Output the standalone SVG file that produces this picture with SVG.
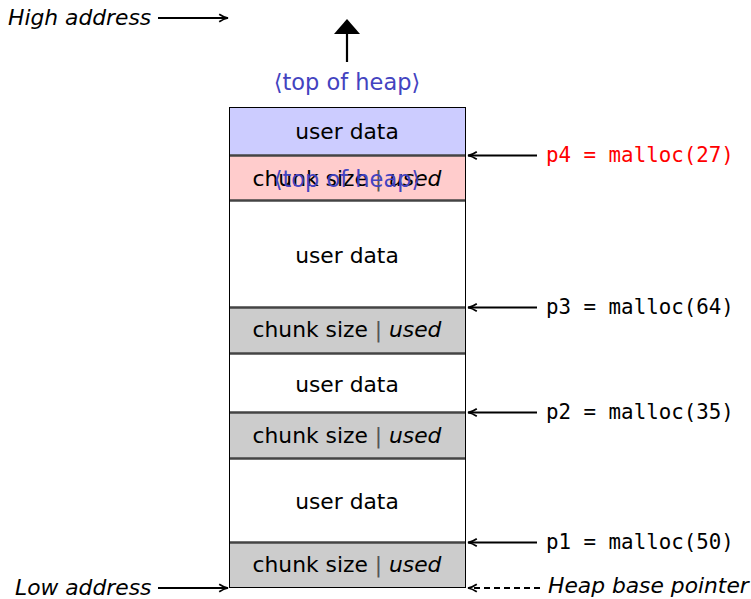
<svg xmlns="http://www.w3.org/2000/svg" width="751" height="599" viewBox="0 0 751 599">
<style>
.t{font-family:"DejaVu Sans","Liberation Sans",sans-serif;font-size:21.8px;fill:#000;text-anchor:middle}
.it{font-style:italic}
.m{font-family:"DejaVu Sans Mono","Liberation Mono",monospace;font-size:20.8px;fill:#000}
.blue{fill:#4343c0;font-size:22.5px}
.sep{stroke:#444;stroke-width:2.5}
.ar{stroke:#000;stroke-width:1.8;fill:none}
.bar{fill:#555}
</style>
<defs>
<marker id="ah" viewBox="0 0 10 10" refX="9" refY="5" markerWidth="11" markerHeight="11" markerUnits="userSpaceOnUse" orient="auto">
<path d="M1,1.5 Q5,4.2 9,5 Q5,5.8 1,8.5" fill="none" stroke="#000" stroke-width="1.6"/>
</marker>
</defs>
<g id="heap">
<rect x="229.5" y="107.5" width="236" height="48" fill="#ccccff"/>
<rect x="229.5" y="155.5" width="236" height="45" fill="#ffcccc"/>
<rect x="229.5" y="200.5" width="236" height="107" fill="#fff"/>
<rect x="229.5" y="307.5" width="236" height="46" fill="#cccccc"/>
<rect x="229.5" y="353.5" width="236" height="59" fill="#fff"/>
<rect x="229.5" y="412.5" width="236" height="46" fill="#cccccc"/>
<rect x="229.5" y="458.5" width="236" height="84" fill="#fff"/>
<rect x="229.5" y="542.5" width="236" height="45" fill="#cccccc"/>
<rect x="229.5" y="107.5" width="236" height="480" fill="none" stroke="#000" stroke-width="1"/>
<line class="sep" x1="230" y1="155.5" x2="465" y2="155.5"/>
<line class="sep" x1="230" y1="200.5" x2="465" y2="200.5"/>
<line class="sep" x1="230" y1="307.5" x2="465" y2="307.5"/>
<line class="sep" x1="230" y1="353.5" x2="465" y2="353.5"/>
<line class="sep" x1="230" y1="412.5" x2="465" y2="412.5"/>
<line class="sep" x1="230" y1="458.5" x2="465" y2="458.5"/>
<line class="sep" x1="230" y1="542.5" x2="465" y2="542.5"/>
</g>
<g id="row-texts">
<text class="t" x="347" y="139">user data</text>
<text class="t" x="347" y="186">chunk size <tspan class="bar">|</tspan> <tspan class="it">used</tspan></text>
<text class="t blue" x="347" y="187">⟨top of heap⟩</text>
<text class="t" x="347" y="263">user data</text>
<text class="t" x="347" y="337">chunk size <tspan class="bar">|</tspan> <tspan class="it">used</tspan></text>
<text class="t" x="347" y="392">user data</text>
<text class="t" x="347" y="443">chunk size <tspan class="bar">|</tspan> <tspan class="it">used</tspan></text>
<text class="t" x="347" y="509">user data</text>
<text class="t" x="347" y="572">chunk size <tspan class="bar">|</tspan> <tspan class="it">used</tspan></text>
</g>
<g id="top-of-heap">
<text class="t blue" x="347" y="90">⟨top of heap⟩</text>
</g>
<g id="labels">
<text class="t it" x="8" y="25" style="text-anchor:start">High address</text>
<text class="t it" x="15" y="595" style="text-anchor:start">Low address</text>
<text class="t it" x="548" y="593" style="text-anchor:start">Heap base pointer</text>
<text class="m" x="546" y="162" style="fill:#ff0000">p4 = malloc(27)</text>
<text class="m" x="546" y="314">p3 = malloc(64)</text>
<text class="m" x="546" y="419">p2 = malloc(35)</text>
<text class="m" x="546" y="549">p1 = malloc(50)</text>
</g>
<g id="connectors">
<line class="ar" x1="158" y1="18" x2="228" y2="18" marker-end="url(#ah)"/>
<line class="ar" x1="158" y1="588" x2="228" y2="588" marker-end="url(#ah)"/>
<line class="ar" x1="537" y1="155.5" x2="468" y2="155.5" marker-end="url(#ah)"/>
<line class="ar" x1="537" y1="307.5" x2="468" y2="307.5" marker-end="url(#ah)"/>
<line class="ar" x1="537" y1="412.5" x2="468" y2="412.5" marker-end="url(#ah)"/>
<line class="ar" x1="537" y1="542.5" x2="468" y2="542.5" marker-end="url(#ah)"/>
<line class="ar" x1="540" y1="588" x2="468" y2="588" stroke-dasharray="6,4" marker-end="url(#ah)"/>
<line x1="347" y1="62" x2="347" y2="34" stroke="#000" stroke-width="2.2"/>
<path d="M347,19 L360,34 L334,34 Z" fill="#000"/>
</g>
</svg>
